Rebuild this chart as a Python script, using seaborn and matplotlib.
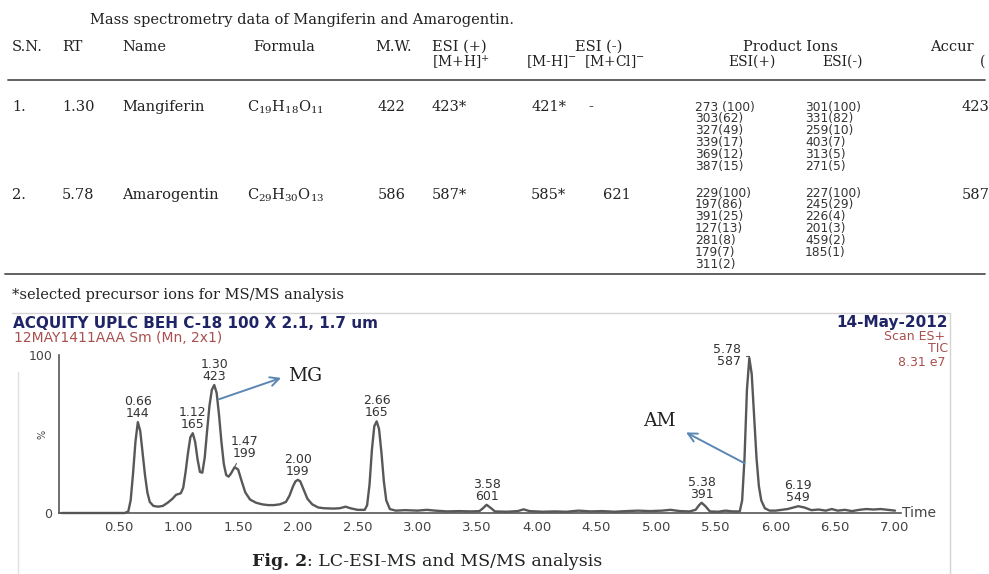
import numpy as np
import matplotlib
matplotlib.use("Agg")
import matplotlib.pyplot as plt
from matplotlib.lines import Line2D
from matplotlib.ticker import FixedLocator, MultipleLocator
import seaborn as sns

# ---- table data ----
table_title = "Mass spectrometry data of Mangiferin and Amarogentin."
sn = ["1.", "2."]
rt = ["1.30", "5.78"]
names = ["Mangiferin", "Amarogentin"]
formulas = [r"C$_{19}$H$_{18}$O$_{11}$", r"C$_{29}$H$_{30}$O$_{13}$"]
mol_wt = ["422", "586"]
esi_pos_mh = ["423*", "587*"]
esi_neg_mh = ["421*", "585*"]
esi_neg_mcl = ["-", "621"]
prod_pos = [["273 (100)", "303(62)", "327(49)", "339(17)", "369(12)", "387(15)"],
            ["229(100)", "197(86)", "391(25)", "127(13)", "281(8)", "179(7)", "311(2)"]]
prod_neg = [["301(100)", "331(82)", "259(10)", "403(7)", "313(5)", "271(5)"],
            ["227(100)", "245(29)", "226(4)", "201(3)", "459(2)", "185(1)"]]
accurate = ["423", "587"]
footnote = "*selected precursor ions for MS/MS analysis"

# ---- chromatogram data (TIC, % relative intensity) ----
ret_time = [0.02, 0.55, 0.58, 0.60, 0.62, 0.64, 0.66, 0.68, 0.70, 0.72, 0.74, 0.76, 0.79, 0.83,
            0.87, 0.91, 0.95, 0.98, 1.00, 1.02, 1.04, 1.06, 1.08, 1.10, 1.12, 1.14, 1.16, 1.18,
            1.20, 1.22, 1.24, 1.26, 1.28, 1.30, 1.32, 1.34, 1.36, 1.38, 1.40, 1.42, 1.44, 1.47,
            1.50, 1.53, 1.56, 1.60, 1.65, 1.70, 1.75, 1.80, 1.85, 1.90, 1.93, 1.96, 1.98, 2.00,
            2.02, 2.05, 2.08, 2.12, 2.17, 2.22, 2.30, 2.35, 2.40, 2.44, 2.50, 2.56, 2.58, 2.60,
            2.62, 2.64, 2.66, 2.68, 2.70, 2.72, 2.74, 2.77, 2.82, 2.90, 3.00, 3.08, 3.15, 3.25,
            3.35, 3.45, 3.52, 3.55, 3.58, 3.61, 3.65, 3.75, 3.84, 3.89, 3.94, 4.05, 4.15, 4.25,
            4.35, 4.45, 4.55, 4.65, 4.75, 4.85, 4.95, 5.05, 5.12, 5.20, 5.28, 5.33, 5.36, 5.38,
            5.41, 5.45, 5.52, 5.58, 5.64, 5.70, 5.72, 5.74, 5.76, 5.78, 5.80, 5.82, 5.84, 5.86,
            5.88, 5.91, 5.95, 6.00, 6.05, 6.10, 6.15, 6.19, 6.24, 6.30, 6.36, 6.42, 6.47, 6.52,
            6.58, 6.64, 6.70, 6.76, 6.82, 6.88, 6.94, 7.00]
intensity = [0, 0, 1, 8, 25, 45, 57.5, 52, 38, 24, 13, 7, 4.5, 4,
             4.5, 6.5, 9, 11.5, 12, 12.5, 16, 26, 38, 48, 50.5, 45, 34, 26,
             25.5, 35, 52, 68, 78, 81, 76, 62, 45, 31, 24, 23, 25, 29,
             27.5, 20, 13, 8.5, 6.5, 5.5, 5, 5, 5.5, 7, 11, 17, 20, 21,
             20, 14.5, 9, 5.5, 3.5, 3, 2.8, 3, 4, 3, 2, 2, 5, 18,
             40, 55, 58, 53, 38, 20, 8, 2.5, 1.5, 1.8, 1.5, 2, 1.5, 1,
             1.2, 1, 1.2, 3, 5.2, 3.5, 1, 0.8, 1.2, 2.3, 1.2, 0.8, 1, 0.8,
             1.5, 1, 1.2, 0.8, 1.2, 1.5, 1.2, 1.5, 2, 1.2, 1, 2, 5, 6.5,
             4.5, 1, 0.8, 1.5, 1, 1, 8, 35, 78, 98, 88, 62, 35, 17,
             8, 3, 1.5, 1.5, 2, 2.5, 3.5, 4.3, 3.5, 1.8, 2.2, 1.5, 2.5, 1.5,
             2, 1.2, 2, 2.5, 2.2, 2.5, 2, 1.5]
peak_rt = [0.66, 1.12, 1.30, 1.47, 2.00, 2.66, 3.58, 5.38, 5.78, 6.19]
peak_mz = [144, 165, 423, 199, 199, 165, 601, 391, 587, 549]

W, H = 989, 574
def fx(px):
    return px / W
def fy(py):
    return 1 - py / H

sns.set_style("white")
plt.rcParams["font.family"] = ["DejaVu Sans"]
plt.rcParams["mathtext.fontset"] = "dejavuserif"

fig = plt.figure(figsize=(9.89, 5.74), dpi=100)
fig.patch.set_facecolor("white")

serif = dict(family="DejaVu Serif", color="#222222")
tsize = 10.5

# ---- table ----
fig.text(fx(90), fy(20), table_title, fontsize=tsize, va="center", **serif)
hdr1 = [(12, "S.N."), (62, "RT"), (122, "Name"), (253, "Formula"), (375, "M.W."),
        (432, "ESI (+)"), (575, "ESI (-)"), (743, "Product Ions"), (930, "Accur")]
for x, s in hdr1:
    fig.text(fx(x), fy(47), s, fontsize=tsize, va="center", **serif)
hdr2 = [(432, r"[M+H]$^{+}$"), (526, r"[M-H]$^{-}$"), (584, r"[M+Cl]$^{-}$"),
        (728, "ESI(+)"), (822, "ESI(-)"), (980, "(")]
for x, s in hdr2:
    fig.text(fx(x), fy(62), s, fontsize=10, va="center", **serif)

fig.add_artist(Line2D([fx(8), fx(985)], [fy(80), fy(80)], color="#555555", lw=1.3))
fig.add_artist(Line2D([fx(5), fx(985)], [fy(274), fy(274)], color="#555555", lw=1.3))

row_y = [107, 195]
prod_y0 = [107, 193]
for i in range(2):
    y = row_y[i]
    cells = [(12, sn[i]), (62, rt[i]), (122, names[i]), (247, formulas[i]),
             (378, mol_wt[i]), (432, esi_pos_mh[i]), (531, esi_neg_mh[i]),
             (588 if esi_neg_mcl[i] == "-" else 603, esi_neg_mcl[i]), (962, accurate[i])]
    for x, s in cells:
        fig.text(fx(x), fy(y), s, fontsize=tsize, va="center", **serif)
    for k, s in enumerate(prod_pos[i]):
        fig.text(fx(695), fy(prod_y0[i] + k * 11.9), s, fontsize=8.8, va="center",
                 color="#333333")
    for k, s in enumerate(prod_neg[i]):
        fig.text(fx(805), fy(prod_y0[i] + k * 11.9), s, fontsize=8.8, va="center",
                 color="#333333")

fig.text(fx(12), fy(295), footnote, fontsize=tsize, va="center", **serif)

# ---- chromatogram frame and header ----
fig.add_artist(Line2D([fx(12), fx(950)], [fy(313), fy(313)], color="#d4d4d4", lw=1))
fig.add_artist(Line2D([fx(950), fx(950)], [fy(313), fy(574)], color="#d4d4d4", lw=1))
fig.add_artist(Line2D([fx(18), fx(18)], [fy(372), fy(574)], color="#e0e0e0", lw=1))

navy = "#1f2466"
red = "#a8504f"
fig.text(fx(13), fy(323), "ACQUITY UPLC BEH C-18 100 X 2.1, 1.7 um", fontsize=11,
         fontweight="bold", color=navy, va="center")
fig.text(fx(14), fy(338), "12MAY1411AAA Sm (Mn, 2x1)", fontsize=10, color=red, va="center")
fig.text(fx(948), fy(322), "14-May-2012", fontsize=11, fontweight="bold", color=navy,
         va="center", ha="right")
fig.text(fx(945), fy(337), "Scan ES+", fontsize=9, color=red, va="center", ha="right")
fig.text(fx(948), fy(349), "TIC", fontsize=9, color=red, va="center", ha="right")
fig.text(fx(945), fy(362), "8.31 e7", fontsize=9, color=red, va="center", ha="right")

# ---- chromatogram axes ----
ax = fig.add_axes([fx(59), fy(513), (901 - 59) / W, (513 - 355) / H])
ax.set_facecolor("none")
sns.lineplot(x=ret_time, y=intensity, ax=ax, color="#585858", linewidth=1.7,
             sort=False, estimator=None, clip_on=False)
ax.set_xlim(0, 7.05)
ax.set_ylim(0, 100)
for sp in ["top", "right"]:
    ax.spines[sp].set_visible(False)
for sp in ["left", "bottom"]:
    ax.spines[sp].set_color("#555555")
    ax.spines[sp].set_linewidth(1.2)
ax.xaxis.set_major_locator(FixedLocator(np.arange(0.5, 7.01, 0.5)))
ax.xaxis.set_major_formatter(matplotlib.ticker.FormatStrFormatter("%.2f"))
ax.xaxis.set_minor_locator(MultipleLocator(0.05))
ax.yaxis.set_major_locator(FixedLocator([0, 100]))
ax.yaxis.set_major_formatter(matplotlib.ticker.FormatStrFormatter("%d"))
ax.yaxis.set_minor_locator(MultipleLocator(10))
ax.tick_params(axis="x", which="major", length=4, width=1, color="#555555",
               labelsize=9.5, labelcolor="#444444", pad=2)
ax.tick_params(axis="x", which="minor", length=2.5, width=0.8, color="#666666")
ax.tick_params(axis="y", which="both", length=4, width=1, color="#555555",
               labelsize=9, labelcolor="#444444", pad=1)
ax.set_xlabel("")
ax.set_ylabel("")
ax.text(7.06, 0, "Time", fontsize=10, color="#444444", va="center", ha="left", clip_on=False)
fig.text(fx(42), fy(434), "%", fontsize=7, rotation=90, color="#444444", va="center", ha="center")

# peak labels
rt_arr = np.array(ret_time)
in_arr = np.array(intensity)
for r, mz in zip(peak_rt, peak_mz):
    top = in_arr[np.abs(rt_arr - r) <= 0.021].max()
    lab = f"{r:.2f}\n{mz}"
    kw = dict(fontsize=9, color="#333333", linespacing=0.9, textcoords="offset points",
              annotation_clip=False)
    if r == 1.47:
        ax.annotate(lab, xy=(r, top), xytext=(7, 5), ha="center", va="bottom",
                    arrowprops=dict(arrowstyle="-", color="#555555", lw=0.8,
                                    shrinkA=0, shrinkB=1), **kw)
    elif r == 5.78:
        ax.annotate(lab, xy=(r, top - 1), xytext=(-6, 3), ha="right", va="center",
                    arrowprops=dict(arrowstyle="-", color="#555555", lw=0.8,
                                    connectionstyle="angle,angleA=0,angleB=90,rad=0",
                                    shrinkA=1, shrinkB=0), **kw)
    else:
        ax.annotate(lab, xy=(r, top), xytext=(0, 1.5), ha="center", va="bottom", **kw)

# compound arrows
arrow_c = "#5b87b3"
ax.annotate("", xy=(1.86, 85.5), xytext=(1.34, 72),
            arrowprops=dict(arrowstyle="->", color=arrow_c, lw=1.4, mutation_scale=16,
                            shrinkA=0, shrinkB=0), annotation_clip=False)
ax.text(1.92, 87, "MG", fontsize=13.5, va="center", ha="left", clip_on=False, **serif)
ax.annotate("", xy=(5.25, 51), xytext=(5.74, 31.5),
            arrowprops=dict(arrowstyle="->", color=arrow_c, lw=1.4, mutation_scale=16,
                            shrinkA=0, shrinkB=0), annotation_clip=False)
ax.text(5.03, 58, "AM", fontsize=13.5, va="center", ha="center", clip_on=False, **serif)

# ---- caption ----
r = fig.canvas.get_renderer()
t1 = fig.text(fx(252), fy(562), "Fig. 2", fontsize=12.5, fontweight="bold", va="center", **serif)
bb = t1.get_window_extent(renderer=r)
fig.text(bb.x1 / W, fy(562), ": LC-ESI-MS and MS/MS analysis", fontsize=12.5, va="center", **serif)

fig.savefig("out.png", dpi=100)
